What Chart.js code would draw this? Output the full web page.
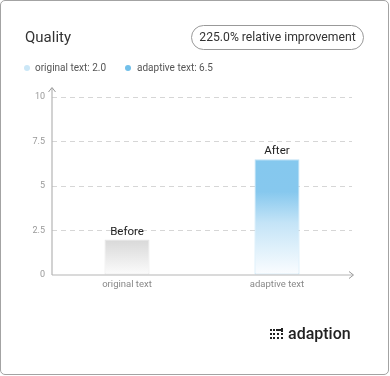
<!DOCTYPE html>
<html>
<head>
<meta charset="utf-8">
<script src="https://cdn.jsdelivr.net/npm/chart.js@4/dist/chart.umd.min.js"></script>
<style>
  html, body { margin:0; padding:0; background:#fff; }
  body { width:390px; height:376px; position:relative; overflow:hidden; font-family: Roboto, "Noto Sans", sans-serif; }
  #card { position:absolute; left:0; top:0; width:389px; height:375px; box-sizing:border-box; border:1px solid #a3a3a3; border-radius:5px; }
  #c { position:absolute; left:0; top:0; }
  #title { position:absolute; left:25px; top:30px; font-size:15px; line-height:15px; color:#333; font-weight:400; }
  #badge { position:absolute; left:191px; top:25px; width:173px; height:25px; box-sizing:border-box; border:1px solid #999; border-radius:13px; font-size:12.2px; line-height:23px; text-align:center; color:#333; }
  .leg { position:absolute; top:62px; height:12px; font-size:10px; line-height:12px; color:#555; white-space:nowrap; }
  .dot { position:absolute; width:6px; height:6px; border-radius:3px; }
  #logo { position:absolute; left:288px; top:324px; font-size:16px; line-height:20px; color:#222; font-weight:500; }
  #icon { position:absolute; left:270px; top:328px; }
</style>
</head>
<body>
<div id="card"></div>
<canvas id="c" width="390" height="376"></canvas>
<div id="title">Quality</div>
<div id="badge"></div>
<div id="legend"></div>
<svg id="icon" width="15" height="13" viewBox="0 0 15 13">
  <g fill="#222">
    <rect x="0" y="1" width="2" height="2"/><rect x="3" y="1" width="2" height="2"/><rect x="6" y="1" width="5" height="2"/><rect x="11" y="0" width="2" height="4"/>
    <rect x="0" y="5" width="2" height="2"/><rect x="3" y="5" width="2" height="2"/><rect x="7" y="5" width="2" height="2"/><rect x="11" y="5" width="2" height="2"/>
    <rect x="0" y="9" width="2" height="2"/><rect x="3" y="9" width="2" height="2"/><rect x="7" y="9" width="2" height="2"/><rect x="11" y="9" width="2" height="2"/>
  </g>
</svg>
<div id="logo">adaption</div>
<script>
const categories = ['original text', 'adaptive text'];
const values = [2.0, 6.5];
const barLabels = ['Before', 'After'];
const yTicks = [0, 2.5, 5, 7.5, 10];
const badgeText = '225.0% relative improvement';

document.getElementById('badge').textContent = badgeText;
const legendColors = ['#cbe7f7', '#72c0ea'];
const legendPos = [{dot:24, text:35}, {dot:125, text:137}];
const legendEl = document.getElementById('legend');
categories.forEach((c, i) => {
  const d = document.createElement('div');
  d.className = 'dot';
  d.style.left = legendPos[i].dot + 'px';
  d.style.top = '65px';
  d.style.background = legendColors[i];
  legendEl.appendChild(d);
  const t = document.createElement('div');
  t.className = 'leg';
  t.style.left = legendPos[i].text + 'px';
  t.textContent = c + ': ' + values[i].toFixed(1);
  legendEl.appendChild(t);
});

function barFill(ctx) {
  const chart = ctx.chart;
  const area = chart.chartArea;
  if (!area) return '#ddd';
  const y = chart.scales.y;
  const top = y.getPixelForValue(values[ctx.dataIndex]);
  const bottom = y.getPixelForValue(0);
  const g = chart.ctx.createLinearGradient(0, top, 0, bottom);
  if (ctx.dataIndex === 0) {
    g.addColorStop(0, '#d8d8d8');
    g.addColorStop(1, '#fcfcfc');
  } else {
    g.addColorStop(0, '#85c8ee');
    g.addColorStop(0.28, '#86c8ee');
    g.addColorStop(0.55, '#c4e4f7');
    g.addColorStop(1, '#fbfdff');
  }
  return g;
}

const decor = {
  id: 'decor',
  afterDatasetsDraw(chart) {
    const c = chart.ctx, a = chart.chartArea;
    c.save();
    c.strokeStyle = '#b5b5b5';
    c.lineWidth = 1.2;
    c.beginPath();
    c.moveTo(a.left, a.bottom); c.lineTo(a.left, a.top - 9);
    c.moveTo(a.left, a.bottom); c.lineTo(a.right + 1, a.bottom);
    c.stroke();
    c.lineWidth = 1;
    c.strokeStyle = '#999';
    c.beginPath();
    c.moveTo(a.left - 3.5, a.top - 5); c.lineTo(a.left, a.top - 9.5); c.lineTo(a.left + 3.5, a.top - 5);
    c.moveTo(a.right - 3, a.bottom - 3.5); c.lineTo(a.right + 1.5, a.bottom); c.lineTo(a.right - 3, a.bottom + 3.5);
    c.stroke();
    c.fillStyle = '#222';
    c.font = '11.5px Roboto, sans-serif';
    c.textAlign = 'center';
    c.textBaseline = 'bottom';
    chart.getDatasetMeta(0).data.forEach((el, i) => {
      c.fillText(barLabels[i], el.x, el.y - 2);
    });
    c.restore();
  }
};

new Chart(document.getElementById('c'), {
  type: 'bar',
  data: {
    labels: categories,
    datasets: [{
      data: values,
      backgroundColor: barFill,
      borderColor: ['#e6e6e6', '#bfe1f5'],
      borderWidth: 1,
      borderSkipped: false,
      barPercentage: 0.3,
      categoryPercentage: 1
    }]
  },
  options: {
    responsive: false,
    animation: false,
    devicePixelRatio: 1,
    layout: { padding: { left: 0, right: 38, top: 97, bottom: 71 } },
    plugins: { legend: { display: false }, tooltip: { enabled: false } },
    scales: {
      x: {
        offset: true,
        grid: { display: false, drawTicks: false },
        border: { display: false },
        ticks: { color: '#888', font: { size: 9.5, family: 'Roboto' }, padding: 4 },
        afterFit(s) { s.height = 30; }
      },
      y: {
        min: 0, max: 10,
        afterBuildTicks(s) { s.ticks = yTicks.map(v => ({ value: v })); },
        grid: {
          color: ctx => ctx.tick && ctx.tick.value === 0 ? 'rgba(0,0,0,0)' : '#d6d6d6',
          lineWidth: 1,
          drawTicks: false
        },
        border: { display: false, dash: [5, 4] },
        ticks: { color: '#999', font: { size: 9, family: 'Roboto' }, padding: 7 },
        afterFit(s) { s.width = 52; }
      }
    }
  },
  plugins: [decor]
});
</script>
</body>
</html>
